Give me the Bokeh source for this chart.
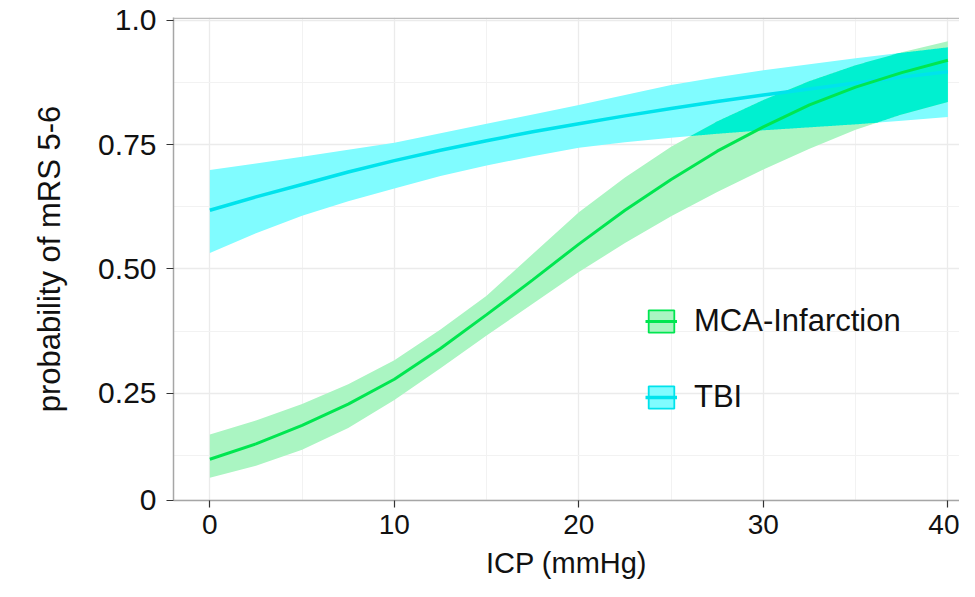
import numpy as np
from bokeh.plotting import figure
from bokeh.models import Range1d, FixedTicker, Span, Legend, LegendItem
from bokeh.embed import file_html
from bokeh.resources import INLINE

# ---- data ----
icp = [0, 2.5, 5, 7.5, 10, 12.5, 15, 17.5, 20, 22.5, 25, 27.5, 30, 32.5, 35, 37.5, 40]

mca_fit = [0.117, 0.148, 0.185, 0.228, 0.278, 0.340, 0.408, 0.478, 0.550,
           0.618, 0.680, 0.737, 0.786, 0.830, 0.866, 0.895, 0.920]
mca_lo = [0.080, 0.104, 0.136, 0.180, 0.236, 0.300, 0.366, 0.430, 0.494,
          0.552, 0.606, 0.655, 0.700, 0.742, 0.780, 0.811, 0.836]
mca_hi = [0.167, 0.195, 0.228, 0.268, 0.316, 0.378, 0.446, 0.530, 0.614,
          0.684, 0.746, 0.797, 0.840, 0.878, 0.910, 0.936, 0.958]

tbi_fit = [0.618, 0.645, 0.670, 0.695, 0.718, 0.739, 0.758, 0.776, 0.792,
           0.808, 0.823, 0.837, 0.850, 0.862, 0.874, 0.886, 0.897]
tbi_lo = [0.532, 0.572, 0.607, 0.636, 0.662, 0.687, 0.708, 0.727, 0.744,
          0.755, 0.764, 0.772, 0.779, 0.785, 0.791, 0.798, 0.806]
tbi_hi = [0.699, 0.712, 0.726, 0.740, 0.754, 0.773, 0.792, 0.811, 0.830,
          0.850, 0.870, 0.886, 0.900, 0.912, 0.924, 0.935, 0.946]

series_names = ["MCA-Infarction", "TBI"]
x_ticks = [0, 10, 20, 30, 40]
x_minor = [5, 15, 25, 35]
y_ticks = [0.0345, 0.25, 0.5, 0.75, 1.0]
y_tick_labels = ["0", "0.25", "0.50", "0.75", "1.0"]
y_minor = [0.125, 0.375, 0.625, 0.875]

# ---- colours ----
MCA_LINE = "#00E650"
MCA_BAND = "#AAF5C2"
TBI_LINE = "#00E3EC"
TBI_BAND = "#80FCFF"
OVERLAP = "#00F0D0"
FONT = "Liberation Sans"

p = figure(width=959, height=581, output_backend="svg", toolbar_location=None,
           x_range=Range1d(-1.97, 40.63), y_range=Range1d(0.034, 1.006),
           min_border_left=173, min_border_right=0, min_border_top=17,
           min_border_bottom=78)
p.outline_line_color = None
p.background_fill_color = "white"
p.border_fill_color = "white"

xt = FixedTicker(ticks=x_ticks, minor_ticks=x_minor)
yt = FixedTicker(ticks=y_ticks, minor_ticks=y_minor)
p.xaxis.ticker = xt
p.yaxis.ticker = yt
p.xgrid.ticker = xt
p.ygrid.ticker = yt
for g in (p.xgrid, p.ygrid):
    g.grid_line_color = "#ebebeb"
    g.grid_line_width = 1.3
    g.minor_grid_line_color = "#f2f2f2"
    g.minor_grid_line_width = 1.0

p.yaxis.major_label_overrides = {t: l for t, l in zip(y_ticks, y_tick_labels)}

for ax in (p.xaxis, p.yaxis):
    ax.axis_line_color = "#a6a6a6"
    ax.axis_line_width = 1.5
    ax.major_tick_line_color = "#333333"
    ax.major_tick_line_width = 1.2
    ax.major_tick_out = 7
    ax.major_tick_in = 0
    ax.minor_tick_out = 0
    ax.minor_tick_in = 0
    ax.major_label_text_font = FONT
    ax.major_label_text_font_size = "28px"
    ax.major_label_text_color = "#111111"
    ax.axis_label_text_font = FONT
    ax.axis_label_text_font_style = "normal"
    ax.axis_label_text_color = "#111111"

p.yaxis.major_label_text_font_size = "30px"
p.xaxis.axis_label = "ICP (mmHg)"
p.yaxis.axis_label = "probability of mRS 5-6"
p.xaxis.axis_label_text_font_size = "29px"
p.yaxis.axis_label_text_font_size = "31px"
p.xaxis.major_label_standoff = 7
p.xaxis.axis_label_standoff = 10
p.yaxis.major_label_standoff = 10
p.yaxis.axis_label_standoff = 28

# top border line
p.add_layout(Span(location=1.0045, dimension="width", line_color="#bdbdbd", line_width=1.5))

# bands
tbi_band = p.varea(x=icp, y1=tbi_lo, y2=tbi_hi, fill_color=TBI_BAND)
mca_band = p.varea(x=icp, y1=mca_lo, y2=mca_hi, fill_color=MCA_BAND)

# overlap region (derived from the two bands)
xf = np.linspace(icp[0], icp[-1], 801)
lo = np.maximum(np.interp(xf, icp, tbi_lo), np.interp(xf, icp, mca_lo))
hi = np.minimum(np.interp(xf, icp, tbi_hi), np.interp(xf, icp, mca_hi))
hi = np.where(hi > lo, hi, lo)
p.varea(x=xf, y1=lo, y2=hi, fill_color=OVERLAP)

# legend keys: degenerate (zero-size) boxes at the curves' first point,
# hidden under the lines; only used to draw the boxed legend symbol
mca_key = p.quad(left=[icp[0]], right=[icp[0]], bottom=[mca_fit[0]], top=[mca_fit[0]],
                 fill_color=MCA_BAND, line_color=MCA_LINE, line_width=1.8)
tbi_key = p.quad(left=[icp[0]], right=[icp[0]], bottom=[tbi_fit[0]], top=[tbi_fit[0]],
                 fill_color=TBI_BAND, line_color=TBI_LINE, line_width=1.8)

tbi_line = p.line(icp, tbi_fit, line_color=TBI_LINE, line_width=3.5)
mca_line = p.line(icp, mca_fit, line_color=MCA_LINE, line_width=3)

legend = Legend(items=[
    LegendItem(label=series_names[0], renderers=[mca_key, mca_line]),
    LegendItem(label=series_names[1], renderers=[tbi_key, tbi_line]),
], location=(472, 85))
legend.label_text_font = FONT
legend.label_text_font_size = "31px"
legend.label_text_color = "#111111"
legend.glyph_width = 32
legend.glyph_height = 28
legend.label_standoff = 17
legend.spacing = 40
legend.padding = 0
legend.margin = 0
legend.border_line_color = None
legend.background_fill_alpha = 0
p.add_layout(legend)

open("out.html", "w").write(file_html(p, INLINE))
